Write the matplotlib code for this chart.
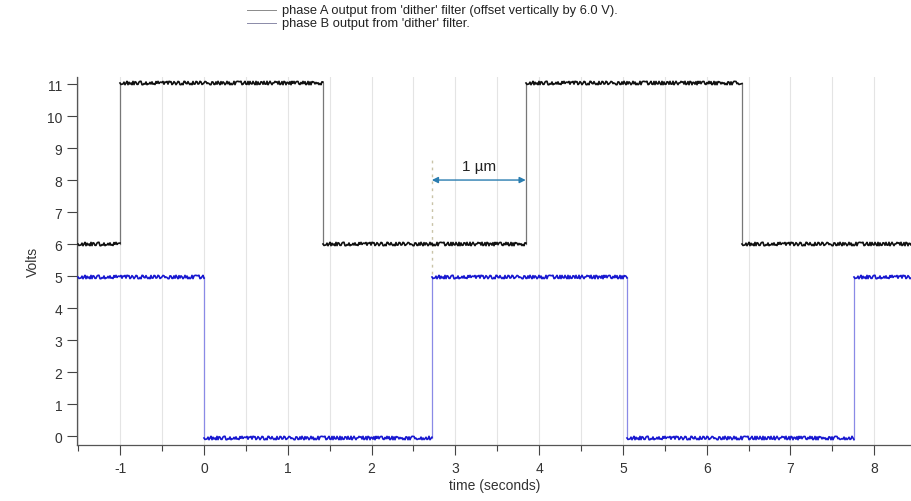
import matplotlib
matplotlib.use("Agg")
import matplotlib.pyplot as plt
from matplotlib.lines import Line2D
import numpy as np

plt.rcParams['font.family'] = ['Liberation Sans', 'DejaVu Sans']
plt.rcParams['axes.unicode_minus'] = False

# Transition times (seconds) and plateau levels (V) for each phase
t_start, t_end = -1.5, 8.45
phase_a_edges = [-1.0, 1.42, 3.84, 6.42]
phase_a_levels = [0.0, 5.03, 0.0, 5.03, 0.0]
phase_a_offset = 6.0
phase_b_edges = [0.0, 2.72, 5.05, 7.76]
phase_b_levels = [4.97, -0.05, 4.97, -0.05, 4.97]

# Span marker between phase B rising edge and phase A rising edge
span_start, span_end = 2.72, 3.84
span_label = "1 \u00b5m"

legend_labels = ["phase A output from 'dither' filter (offset vertically by 6.0 V).",
                 "phase B output from 'dither' filter."]
x_ticks = [-1, 0, 1, 2, 3, 4, 5, 6, 7, 8]
y_ticks = list(range(0, 12))

W, H = 912, 502
fig = plt.figure(figsize=(W / 100, H / 100), dpi=100)
ax = fig.add_axes([77 / W, 1 - 446 / H, 1 - 77 / W, (446 - 78) / H])


def draw_square(edges, levels, offset, color, edge_color):
    bounds = [t_start] + list(edges) + [t_end]
    lv = np.asarray(levels) + offset
    # risers between plateaus
    for i, t in enumerate(edges):
        ax.plot([t, t], [lv[i], lv[i + 1]], color=edge_color, lw=0.9, zorder=2)
    # noisy plateaus
    for i in range(len(lv)):
        ln, = ax.plot([bounds[i], bounds[i + 1]], [lv[i], lv[i]], color=color,
                      lw=1.2, zorder=3)
        ln.set_sketch_params(scale=1.7, length=2.0, randomness=3)


draw_square(phase_a_edges, phase_a_levels, phase_a_offset, '#111111', '#777777')
draw_square(phase_b_edges, phase_b_levels, 0.0, '#1818d0', '#8a8ae6')

# light vertical grid every half second
for g in np.arange(-1.5, 8.51, 0.5):
    ax.axvline(g, color='#e4e4e4', lw=0.8, zorder=0)

# reference marker and span arrow
ax.plot([span_start, span_start], [phase_b_levels[2] + 0.1, 8.65], color='#c9c3a8',
        lw=1.0, ls=(0, (2, 3)), zorder=1)
ax.annotate('', xy=(span_start, 8.0), xytext=(span_end, 8.0),
            arrowprops=dict(arrowstyle='<|-|>', color='#2a7db0', lw=1.0,
                            mutation_scale=9, shrinkA=0, shrinkB=0))
ax.text((span_start + span_end) / 2, 8.22, span_label, ha='center', va='bottom',
        fontsize=11, color='#222222')

ax.set_xlim(-1.515, 8.45)
ax.set_ylim(-0.28, 11.22)
ax.set_xticks(x_ticks)
ax.set_xticks(np.arange(-1.5, 8.5, 0.5), minor=True)
ax.set_yticks(y_ticks)
ax.tick_params(axis='both', which='major', direction='out', length=7, width=0.8,
               color='#444444', labelsize=10, labelcolor='#333333')
ax.tick_params(axis='y', which='major', pad=3.5)
ax.tick_params(axis='x', which='major', pad=4.5)
ax.tick_params(axis='x', which='minor', direction='out', length=4, width=0.8,
               color='#444444')
for s in ('top', 'right'):
    ax.spines[s].set_visible(False)
for s in ('left', 'bottom'):
    ax.spines[s].set_color('#555555')
    ax.spines[s].set_linewidth(0.9)

ax.set_xlabel('time (seconds)', fontsize=10, color='#333333', labelpad=2)
ax.set_ylabel('Volts', fontsize=10, color='#333333', labelpad=5)

# two-row key above the plot
key_colors = ['#8a8a8a', '#8a8aa8']
key_rows = [11, 24]
for lab, col, yy in zip(legend_labels, key_colors, key_rows):
    fig.add_artist(Line2D([247 / W, 276 / W], [1 - yy / H, 1 - yy / H],
                          color=col, lw=0.7, transform=fig.transFigure))
    fig.text(282 / W, 1 - yy / H, lab, ha='left', va='center', fontsize=9.3,
             color='#222222')

fig.savefig('out.png', dpi=100)
